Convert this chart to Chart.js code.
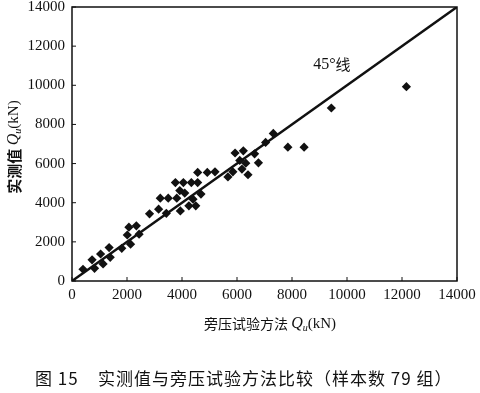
<!DOCTYPE html>
<html>
<head>
<meta charset="utf-8">
<script src="https://cdn.jsdelivr.net/npm/chart.js@4"></script>
<style>
  body { margin: 0; background: #fff; }
  #wrap { position: relative; width: 480px; height: 393px; }
  #chart { position: absolute; left: 0; top: 0; }
  #caption {
    position: absolute; left: 35px; top: 368px;
    font-family: "Noto Sans CJK SC", sans-serif; font-size: 17px; color: #111;
    white-space: pre; line-height: 20px; letter-spacing: 1px;
  }
</style>
</head>
<body>
<div id="wrap">
  <canvas id="chart" width="480" height="393"></canvas>
  <div id="caption">图 15    实测值与旁压试验方法比较（样本数 79 组）</div>
</div>
<script>
// 旁压试验方法 Qu (x) vs 实测值 Qu (y), kN
const pressuremeterQu = [400, 730, 820, 1040, 1130, 1350, 1390, 1810, 2010, 2070,
  2130, 2340, 2440, 2820, 3150, 3210, 3430, 3500, 3760, 3810,
  3920, 3940, 4050, 4100, 4250, 4340, 4400, 4500, 4570, 4570,
  4690, 4920, 5200, 5670, 5850, 5930, 6100, 6180, 6230, 6320,
  6400, 6640, 6780, 7040, 7320, 7850, 8440, 9430, 12160];
const measuredQu = [600, 1080, 650, 1380, 870, 1710, 1210, 1670, 2350, 2750,
  1880, 2820, 2390, 3430, 3670, 4230, 3460, 4230, 5030, 4230,
  4620, 3580, 5030, 4490, 3840, 5030, 4180, 3840, 5030, 5550,
  4440, 5550, 5580, 5320, 5580, 6540, 6160, 5720, 6650, 6020,
  5430, 6500, 6040, 7080, 7540, 6840, 6840, 8840, 9930];
const axisTicks = [0, 2000, 4000, 6000, 8000, 10000, 12000, 14000];
const lineLabel = "45°线";
const lineLabelPos = [9450, 11050];

const serif = "'Liberation Serif', 'Times New Roman', serif";
const cjk = "'Noto Sans CJK SC', sans-serif";

const points = pressuremeterQu.map((x, i) => ({ x: x, y: measuredQu[i] }));

function drawTitle(ctx, parts, cx, cy) {
  let total = 0;
  for (const p of parts) {
    ctx.font = p.font;
    total += ctx.measureText(p.text).width;
  }
  let x = cx - total / 2;
  for (const p of parts) {
    ctx.font = p.font;
    ctx.fillText(p.text, x, cy + (p.dy || 0));
    x += ctx.measureText(p.text).width;
  }
}

const extras = {
  id: "extras",
  afterDraw(chart) {
    const { ctx, chartArea, scales } = chart;
    ctx.save();
    ctx.strokeStyle = "#111";
    ctx.lineWidth = 1.5;
    ctx.strokeRect(chartArea.left, chartArea.top,
      chartArea.right - chartArea.left, chartArea.bottom - chartArea.top);
    // small inward ticks
    ctx.lineWidth = 1;
    ctx.beginPath();
    for (const v of axisTicks) {
      const px = scales.x.getPixelForValue(v);
      ctx.moveTo(px, chartArea.bottom);
      ctx.lineTo(px, chartArea.bottom - 4);
      const py = scales.y.getPixelForValue(v);
      ctx.moveTo(chartArea.left, py);
      ctx.lineTo(chartArea.left + 4, py);
    }
    ctx.stroke();

    ctx.fillStyle = "#111";
    ctx.textBaseline = "middle";
    ctx.textAlign = "left";
    // 45° line label
    drawTitle(ctx, [
      { text: "45°", font: "16px " + serif },
      { text: "线", font: "15px " + cjk }
    ], scales.x.getPixelForValue(lineLabelPos[0]), scales.y.getPixelForValue(lineLabelPos[1]));

    const title = [
      { text: "旁压试验方法 ", font: "14px " + cjk },
      { text: "Q", font: "italic 16px " + serif },
      { text: "u", font: "italic 10px " + serif, dy: 4 },
      { text: "(kN)", font: "15px " + serif }
    ];
    drawTitle(ctx, title, 270, 324);

    const yTitle = [
      { text: "实测值 ", font: "bold 15px " + cjk },
      { text: "Q", font: "italic 16px " + serif },
      { text: "u", font: "italic 10px " + serif, dy: 4 },
      { text: "(kN)", font: "15px " + serif }
    ];
    ctx.translate(14, 147);
    ctx.rotate(-Math.PI / 2);
    drawTitle(ctx, yTitle, 0, 0);
    ctx.restore();
  }
};

function fixX(scale) {
  scale.height = 112;
  scale.paddingLeft = 0;
  scale.paddingRight = 0;
}
function fixY(scale) {
  scale.width = 72;
  scale.paddingTop = 0;
  scale.paddingBottom = 0;
}

new Chart(document.getElementById("chart"), {
  type: "scatter",
  data: {
    datasets: [
      {
        label: "45°线",
        data: [{ x: 0, y: 0 }, { x: 14000, y: 14000 }],
        showLine: true,
        borderColor: "#111",
        borderWidth: 2.5,
        pointRadius: 0
      },
      {
        label: "样本",
        data: points,
        pointStyle: "rectRot",
        pointRadius: 4.6,
        backgroundColor: "#111",
        borderColor: "#111",
        borderWidth: 0
      }
    ]
  },
  options: {
    responsive: false,
    animation: false,
    layout: { padding: { left: 0, right: 23, top: 7, bottom: 0 } },
    plugins: {
      legend: { display: false },
      tooltip: { enabled: false }
    },
    scales: {
      x: {
        type: "linear",
        min: 0,
        max: 14000,
        afterFit: fixX,
        afterBuildTicks: (s) => { s.ticks = axisTicks.map((v) => ({ value: v })); },
        grid: { display: false, drawTicks: false },
        border: { display: false },
        ticks: {
          color: "#111",
          padding: 5,
          maxRotation: 0,
          font: { family: serif, size: 15 },
          callback: (v) => String(v)
        }
      },
      y: {
        type: "linear",
        min: 0,
        max: 14000,
        afterFit: fixY,
        afterBuildTicks: (s) => { s.ticks = axisTicks.map((v) => ({ value: v })); },
        grid: { display: false, drawTicks: false },
        border: { display: false },
        ticks: {
          color: "#111",
          padding: 7,
          font: { family: serif, size: 15 },
          callback: (v) => String(v)
        }
      }
    }
  },
  plugins: [extras]
});
</script>
</body>
</html>
